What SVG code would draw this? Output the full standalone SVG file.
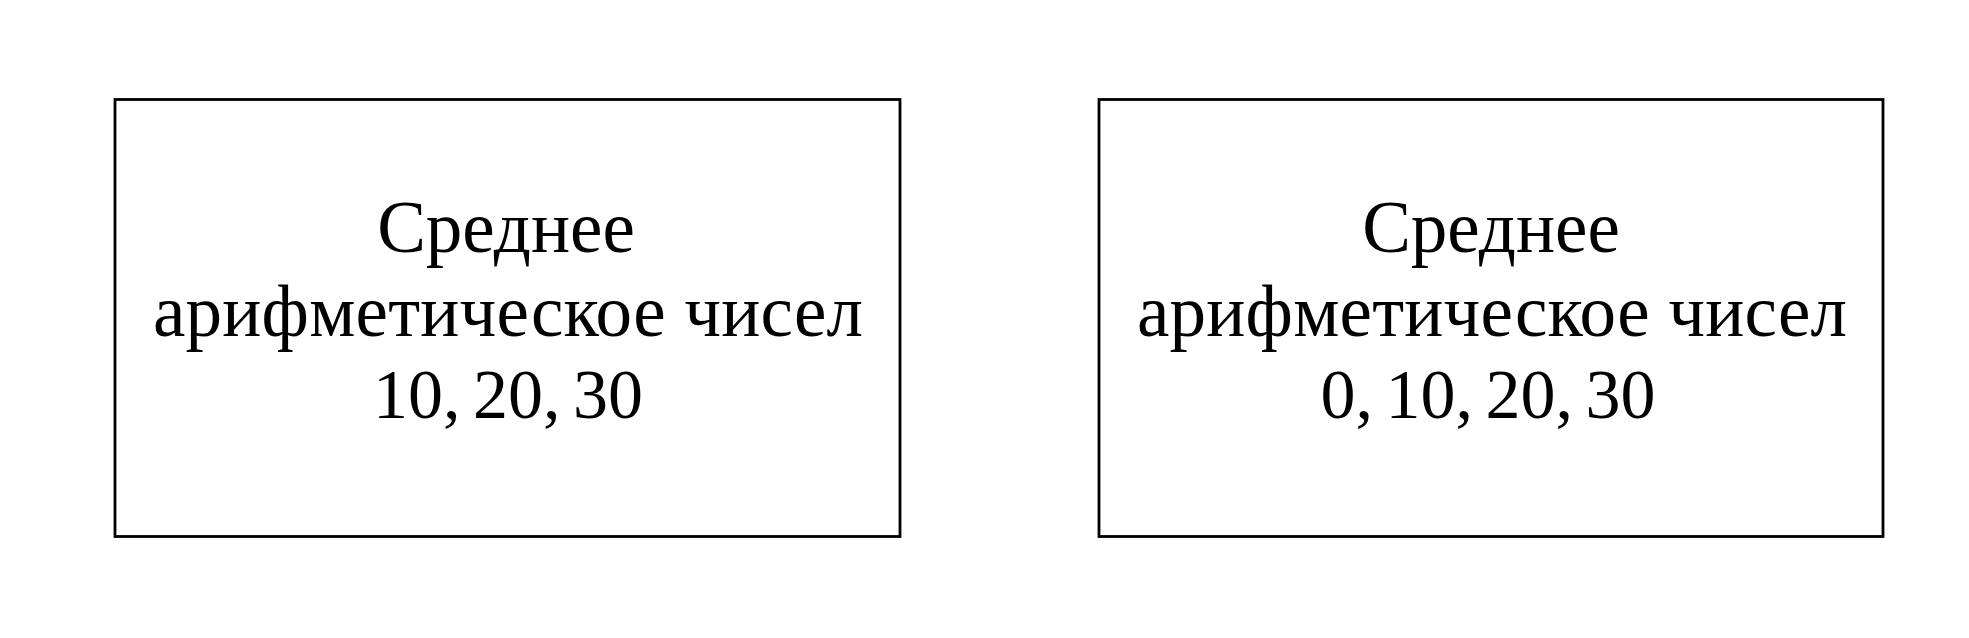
<svg xmlns="http://www.w3.org/2000/svg" width="1969" height="638" viewBox="0 0 1969 638">
<style>
.box{fill:#fff;stroke:#000;stroke-width:2.8}
.t{font-family:"Liberation Serif","DejaVu Serif",serif;font-size:73px;fill:#000;text-anchor:middle}
.n{font-size:70px;word-spacing:-5px}
</style>
<rect width="1969" height="638" fill="#fff"/>
<g id="node1">
<rect class="box" x="115" y="99.5" width="785" height="437"/>
<text class="t" x="506" y="252">Среднее</text>
<text class="t" x="508" y="336" textLength="710" lengthAdjust="spacing">арифметическое чисел</text>
<text class="t n" x="508" y="418">10, 20, 30</text>
</g>
<g id="node2">
<rect class="box" x="1099" y="99.5" width="784" height="437"/>
<text class="t" x="1491" y="252">Среднее</text>
<text class="t" x="1492" y="336" textLength="710" lengthAdjust="spacing">арифметическое чисел</text>
<text class="t n" x="1488" y="418">0, 10, 20, 30</text>
</g>
<g id="connectors"></g>
</svg>
